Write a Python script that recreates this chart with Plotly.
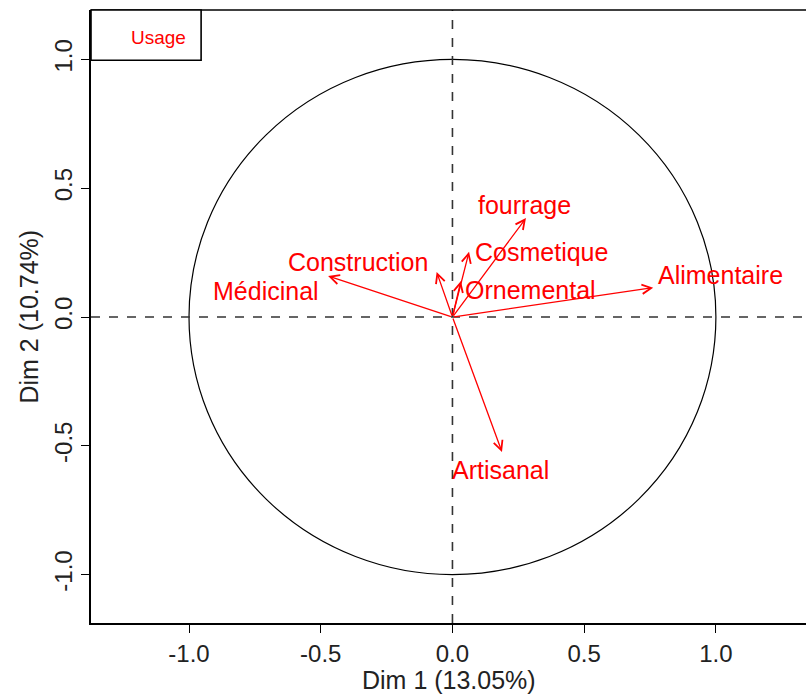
import plotly.graph_objects as go

# ---- data ----
variables = ["Alimentaire", "Ornemental", "Cosmetique", "fourrage",
             "Construction", "Médicinal", "Artisanal"]
dim1 = [0.762, 0.032, 0.063, 0.279, -0.060, -0.472, 0.188]
dim2 = [0.114, 0.140, 0.253, 0.384, 0.175, 0.159, -0.524]
# label anchor positions (as placed by the label-repel of the original)
label_x = [1.019, 0.296, 0.338, 0.274, -0.360, -0.707, 0.183]
label_y = [0.163, 0.104, 0.253, 0.436, 0.214, 0.100, -0.595]
tick_vals = [-1.0, -0.5, 0.0, 0.5, 1.0]
tick_text = ["-1.0", "-0.5", "0.0", "0.5", "1.0"]
x_title = "Dim 1 (13.05%)"
y_title = "Dim 2 (10.74%)"
legend_title = "Usage"

FONT = "Liberation Sans, Arial, sans-serif"
RED = "#FF0000"
TXT = "#222222"

fig = go.Figure()
fig.add_trace(go.Scatter(x=dim1, y=dim2, mode="markers",
                         marker=dict(opacity=0), hoverinfo="skip", showlegend=False))

shapes = [
    dict(type="circle", xref="x", yref="y", x0=-1, y0=-1, x1=1, y1=1,
         line=dict(color="black", width=1.2)),
    dict(type="line", xref="x", yref="paper", x0=0, x1=0, y0=0, y1=1,
         line=dict(color="#333333", width=1.6, dash="dash")),
    dict(type="line", xref="paper", yref="y", x0=0, x1=1, y0=0, y1=0,
         line=dict(color="#333333", width=1.6, dash="dash")),
    dict(type="line", xref="paper", yref="paper", x0=0, x1=1, y0=1, y1=1,
         line=dict(color="black", width=1.6)),
    dict(type="rect", xref="paper", yref="paper", x0=0, x1=0.154, y0=0.918, y1=1,
         line=dict(color="black", width=1.6), fillcolor="white"),
]

annotations = []
for v, x, y in zip(variables, dim1, dim2):
    annotations.append(dict(x=x, y=y, ax=0, ay=0, xref="x", yref="y",
                            axref="x", ayref="y", text="", showarrow=True,
                            arrowhead=5, arrowsize=1.4, arrowwidth=1.3,
                            arrowcolor=RED, standoff=0, startstandoff=0))
for v, lx, ly in zip(variables, label_x, label_y):
    annotations.append(dict(x=lx, y=ly, xref="x", yref="y", text=v,
                            showarrow=False, xanchor="center", yanchor="middle",
                            font=dict(family=FONT, size=25, color=RED)))
annotations.append(dict(x=0.095, y=0.955, xref="paper", yref="paper",
                        xanchor="center", yanchor="middle",
                        text=legend_title, showarrow=False,
                        font=dict(family=FONT, size=19, color=RED)))
annotations.append(dict(x=0.5, y=-0.093, xref="paper", yref="paper",
                        xanchor="center", yanchor="middle",
                        text=x_title, showarrow=False,
                        font=dict(family=FONT, size=25, color=TXT)))
annotations.append(dict(x=-0.088, y=0.5, xref="paper", yref="paper",
                        xanchor="center", yanchor="middle", textangle=-90,
                        text=y_title, showarrow=False,
                        font=dict(family=FONT, size=25, color=TXT)))

fig.update_layout(
    width=806, height=694,
    margin=dict(l=91, r=0, t=10, b=71, autoexpand=False),
    paper_bgcolor="white", plot_bgcolor="white",
    showlegend=False,
    shapes=shapes, annotations=annotations,
    font=dict(family=FONT, color=TXT),
)
fig.update_xaxes(range=[-1.372, 1.342], tickvals=tick_vals, ticktext=tick_text,
                 showgrid=False, zeroline=False, showline=True, linecolor="black",
                 linewidth=1.6, ticks="outside", ticklen=8, tickwidth=1.4,
                 tickcolor="black", automargin=False,
                 tickfont=dict(family=FONT, size=24, color=TXT))
fig.update_yaxes(range=[-1.188, 1.192], tickvals=tick_vals, ticktext=tick_text,
                 showgrid=False, zeroline=False, showline=True, linecolor="black",
                 linewidth=1.6, ticks="outside", ticklen=8, tickwidth=1.4,
                 tickcolor="black", tickangle=-90, automargin=False,
                 tickfont=dict(family=FONT, size=24, color=TXT))

fig.write_html("out.html", config={"displayModeBar": False},
               post_script="document.body.style.margin='0px';"
                           "document.body.style.padding='0px';"
                           "document.body.style.overflow='hidden';")
